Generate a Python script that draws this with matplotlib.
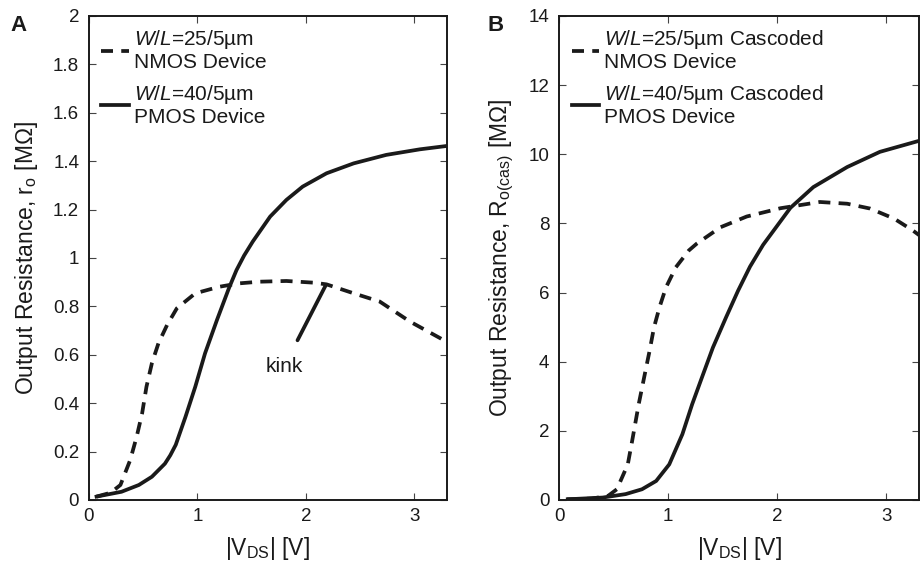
import numpy as np
import matplotlib
matplotlib.use('Agg')
import matplotlib.pyplot as plt
from matplotlib.lines import Line2D

plt.rcParams['font.family'] = ['Liberation Sans', 'DejaVu Sans']
plt.rcParams['mathtext.fontset'] = 'custom'
plt.rcParams['mathtext.rm'] = 'Liberation Sans'
plt.rcParams['mathtext.it'] = 'Liberation Sans:italic'

# panel A: single devices, r_o [MOhm]
vds_nmos_a = [0.07, 0.2, 0.29, 0.38, 0.44, 0.49, 0.53, 0.58, 0.64, 0.72, 0.81, 0.98, 1.20, 1.38, 1.57,
              1.82, 2.07, 2.19, 2.44, 2.68, 2.96, 3.24, 3.3]
ro_nmos_a = [0.014, 0.03, 0.062, 0.165, 0.262, 0.358, 0.468, 0.565, 0.647, 0.723, 0.792, 0.854, 0.881,
             0.895, 0.902, 0.905, 0.898, 0.891, 0.854, 0.82, 0.737, 0.668, 0.652]
vds_pmos_a = [0.07, 0.30, 0.46, 0.58, 0.70, 0.75, 0.80, 0.89, 0.98, 1.07, 1.18, 1.29, 1.36, 1.43, 1.51,
              1.67, 1.82, 1.97, 2.19, 2.44, 2.74, 3.05, 3.3]
ro_pmos_a = [0.014, 0.034, 0.062, 0.096, 0.15, 0.185, 0.228, 0.344, 0.468, 0.606, 0.744, 0.875, 0.95,
             1.01, 1.068, 1.171, 1.24, 1.295, 1.35, 1.391, 1.426, 1.449, 1.463]

# panel B: cascoded devices, R_o(cas) [MOhm]
vds_nmos_b = [0.07, 0.3, 0.45, 0.53, 0.63, 0.67, 0.73, 0.78, 0.83, 0.87, 0.92, 0.98, 1.07, 1.19, 1.26,
              1.48, 1.72, 2.03, 2.39, 2.64, 2.85, 3.07, 3.24, 3.3]
ro_nmos_b = [0.02, 0.04, 0.12, 0.31, 1.03, 1.71, 2.77, 3.55, 4.32, 4.99, 5.57, 6.15, 6.73, 7.22, 7.41,
             7.89, 8.20, 8.44, 8.62, 8.57, 8.43, 8.14, 7.80, 7.66]
vds_pmos_b = [0.08, 0.40, 0.61, 0.76, 0.89, 1.01, 1.13, 1.22, 1.31, 1.41, 1.53, 1.64, 1.75, 1.87, 2.12,
              2.33, 2.64, 2.94, 3.3]
ro_pmos_b = [0.02, 0.07, 0.17, 0.31, 0.55, 1.03, 1.90, 2.77, 3.55, 4.41, 5.28, 6.05, 6.75, 7.38, 8.45,
             9.05, 9.63, 10.07, 10.39]

kink_tip = (2.18, 0.885)
kink_text = (1.80, 0.553)

LW = 2.7
DASH = (0, (3.2, 2.2))
INK = '#1a1a1a'


def setup(ax, ymax, yticks, ylabel, letter, lab_x, let_x):
    ax.set_xlim(0, 3.3)
    ax.set_ylim(0, ymax)
    ax.set_xticks([0, 1, 2, 3])
    ax.set_yticks(yticks)
    ax.set_yticklabels(['%g' % t for t in yticks])
    ax.tick_params(axis='both', direction='in', top=True, right=True, length=5, width=0.8,
                   labelsize=13.5, colors='#444444', labelcolor=INK)
    ax.tick_params(axis='y', pad=7)
    ax.tick_params(axis='x', pad=6)
    for s in ax.spines.values():
        s.set_linewidth(1.4)
        s.set_color(INK)
    ax.set_xlabel(r'|V$_{\mathrm{DS}}$| [V]', fontsize=16.5, color=INK, labelpad=7)
    ax.set_ylabel(ylabel, fontsize=16.5, color=INK)
    ax.yaxis.set_label_coords(lab_x, 0.5)
    ax.text(let_x, 0.98, letter, transform=ax.transAxes, fontsize=16, fontweight='bold',
            va='center', ha='left', color=INK)


fig = plt.figure(figsize=(9.21, 5.69), dpi=100)
ax1 = fig.add_axes([0.0966, 0.1213, 0.3887, 0.8506])
ax2 = fig.add_axes([0.607, 0.1213, 0.391, 0.8506])

ax1.plot(vds_nmos_a, ro_nmos_a, color=INK, ls=DASH, lw=LW)
ax1.plot(vds_pmos_a, ro_pmos_a, color=INK, ls='-', lw=LW)
ax1.annotate('kink', xy=kink_tip, xytext=kink_text, fontsize=15, ha='center', va='center', color=INK,
             arrowprops=dict(arrowstyle='-', lw=LW, color=INK, shrinkA=11, shrinkB=0))
setup(ax1, 2, [0, 0.2, 0.4, 0.6, 0.8, 1, 1.2, 1.4, 1.6, 1.8, 2],
      r'Output Resistance, r$_{\mathrm{o}}$ [M$\Omega$]', 'A', -0.137, -0.22)

ax2.plot(vds_nmos_b, ro_nmos_b, color=INK, ls=DASH, lw=LW)
ax2.plot(vds_pmos_b, ro_pmos_b, color=INK, ls='-', lw=LW)
setup(ax2, 14, [0, 2, 4, 6, 8, 10, 12, 14],
      r'Output Resistance, R$_{\mathrm{o(cas)}}$ [M$\Omega$]', 'B', -0.12, -0.20)

for ax, extra in [(ax1, ''), (ax2, ' Cascoded')]:
    handles = [Line2D([], [], color=INK, ls=DASH, lw=LW), Line2D([], [], color=INK, ls='-', lw=LW)]
    labels = [r'$\it{W/L}$=25/5µm' + extra + '\nNMOS Device',
              r'$\it{W/L}$=40/5µm' + extra + '\nPMOS Device']
    leg = ax.legend(handles, labels, loc='upper left', frameon=False, fontsize=15, handlelength=1.3,
                    handletextpad=0.25, labelspacing=0.5, borderaxespad=0.2, borderpad=0.4)
    for t in leg.get_texts():
        t.set_linespacing(1.12)
        t.set_color(INK)

fig.savefig('out.png', dpi=100)
